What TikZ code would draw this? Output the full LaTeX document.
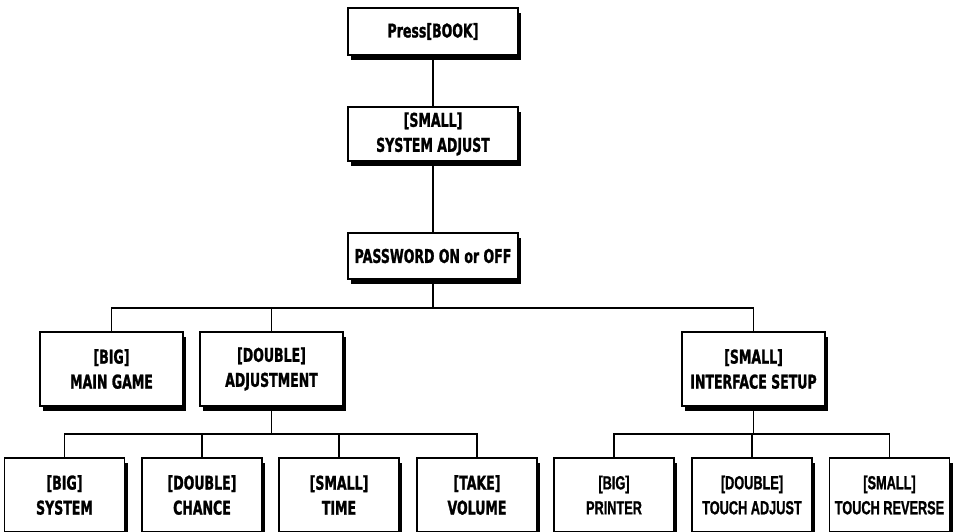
\documentclass[tikz,border=0pt]{standalone}
\usepackage{fontspec}
\setmainfont{DejaVu Sans}[FakeStretch=0.66, BoldFeatures={FakeBold=1.2}]
\newfontfamily\narrowfont{Liberation Sans}[UprightFont={* Bold}, FakeStretch=0.67, FakeBold=1]
\usetikzlibrary{shadows}
\begin{document}
\begin{tikzpicture}[x=1pt,y=-1pt,
  box/.style={draw=black, line width=1.3pt, fill=white, align=center, inner sep=0pt,
    font=\bfseries\fontsize{19}{25}\selectfont,
    drop shadow={shadow xshift=3pt, shadow yshift=-5pt, opacity=1, fill=black}},
  topbox/.style={box, minimum width=170pt},
  midbox/.style={box, minimum width=143pt, minimum height=74pt},
  lowbox/.style={box, minimum width=120pt, minimum height=74pt},
  narrowbox/.style={lowbox, font=\narrowfont\fontsize{19}{25}\selectfont},
  conn/.style={line width=1.1pt}]
\useasboundingbox (0,0) rectangle (955,531);
\clip (0,0) rectangle (955,531);
\fill[white] (0,0) rectangle (955,531);

\node[topbox, minimum height=47pt] (press) at (433,31.5) {Press[BOOK]};
\node[topbox, minimum height=54pt] (sysadj) at (433,134) {[SMALL]\\SYSTEM ADJUST};
\node[topbox, minimum height=46pt] (pass) at (433,256) {PASSWORD ON or OFF};

\node[midbox] (main) at (111.5,369) {[BIG]\\MAIN GAME};
\node[midbox] (adj) at (271.5,369) {[DOUBLE]\\ADJUSTMENT};
\node[midbox] (iface) at (753.5,369) {[SMALL]\\INTERFACE SETUP};

\node[lowbox] (sys) at (64.5,495) {[BIG]\\SYSTEM};
\node[lowbox] (chance) at (202,495) {[DOUBLE]\\CHANCE};
\node[lowbox] (time) at (339,495) {[SMALL]\\TIME};
\node[lowbox] (vol) at (477,495) {[TAKE]\\VOLUME};
\node[narrowbox] (printer) at (614,495) {[BIG]\\PRINTER};
\node[narrowbox] (tadj) at (752,495) {[DOUBLE]\\TOUCH ADJUST};
\node[narrowbox] (trev) at (889.5,495) {[SMALL]\\TOUCH REVERSE};

\coordinate (bus1) at (433,308);
\coordinate (bus2) at (271.5,434);
\coordinate (bus3) at (753.5,434);

\draw[conn] (press.south) -- (sysadj.north);
\draw[conn] (sysadj.south) -- (pass.north);
\draw[conn] (pass.south) -- (bus1);
\draw[conn] (main.north) |- (bus1) -| (iface.north);
\draw[conn] (adj.north) -- (adj.north |- bus1);

\draw[conn] (adj.south) -- (bus2);
\draw[conn] (sys.north) |- (bus2) -| (vol.north);
\draw[conn] (chance.north) -- (chance.north |- bus2);
\draw[conn] (time.north) -- (time.north |- bus2);

\draw[conn] (iface.south) -- (bus3);
\draw[conn] (printer.north) |- (bus3) -| (trev.north);
\draw[conn] (tadj.north) -- (tadj.north |- bus3);
\end{tikzpicture}
\end{document}
